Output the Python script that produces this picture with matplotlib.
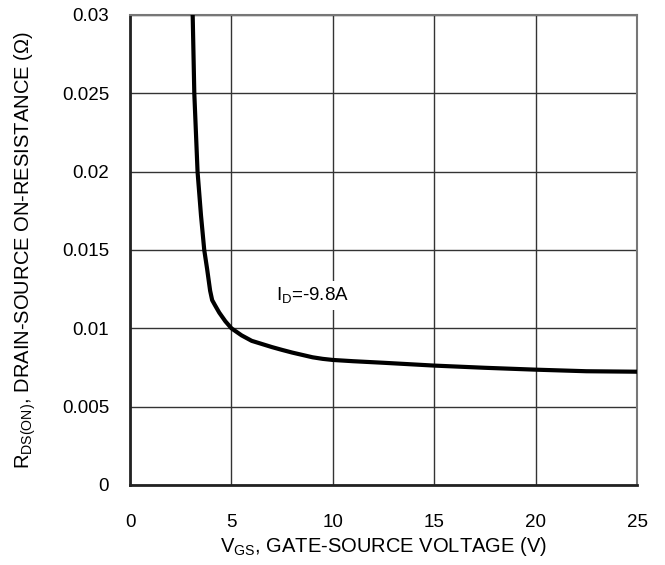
import matplotlib
matplotlib.use('Agg')
import matplotlib.pyplot as plt

# VGS vs RDS(ON)
vgs = [3.09, 3.17, 3.33, 3.5, 3.66, 3.8, 3.95, 4.05, 4.2, 4.4, 4.7, 5.0, 5.5, 6.0, 6.5, 7.0, 7.5, 8.0, 8.5, 9.0, 9.5, 10.0, 11.0, 12.5, 15.0, 17.5, 20.0, 22.5, 25.0]
rds = [0.030, 0.025, 0.020, 0.0172, 0.015, 0.0138, 0.0124, 0.0118, 0.01145, 0.0110, 0.01045, 0.0100, 0.00955, 0.0092, 0.0090, 0.0088, 0.00862, 0.00845, 0.0083, 0.00815, 0.00805, 0.00798, 0.0079, 0.0078, 0.00762, 0.00748, 0.00736, 0.00726, 0.00723]
xticks = [0, 5, 10, 15, 20, 25]
yticks = [0, 0.005, 0.01, 0.015, 0.02, 0.025, 0.03]
ytick_labels = ['0', '0.005', '0.01', '0.015', '0.02', '0.025', '0.03']

plt.rcParams['font.family'] = ['Liberation Sans', 'DejaVu Sans']
plt.rcParams['mathtext.fontset'] = 'custom'
plt.rcParams['mathtext.rm'] = 'Liberation Sans'

fig = plt.figure(figsize=(6.65, 5.65), dpi=100)
ax = fig.add_axes([0.1955, 0.1416, 0.7625, 0.832])
ax.plot(vgs, rds, color='black', lw=3, solid_capstyle='butt', solid_joinstyle='round', zorder=3)
ax.set_xlim(0, 25)
ax.set_ylim(0, 0.03)
ax.set_xticks(xticks)
ax.set_yticks(yticks)
ax.set_yticklabels(ytick_labels)
ax.tick_params(length=0, labelsize=13.5)
ax.tick_params(axis='x', pad=21)
ax.tick_params(axis='y', pad=15)
ax.grid(True, color='#333333', lw=1)
for s in ['top', 'right']:
    ax.spines[s].set_color('#777777')
    ax.spines[s].set_linewidth(1.5)
for s in ['left', 'bottom']:
    ax.spines[s].set_color('#222222')
    ax.spines[s].set_linewidth(2)

ax.text(9.0, 0.0121, r'$\mathregular{I_D}$=-9.8A', fontsize=13.5, ha='center', va='center',
        bbox=dict(facecolor='white', edgecolor='none', pad=3), zorder=4)
ax.set_xlabel(r'$\mathregular{V_{GS}}$, GATE-SOURCE VOLTAGE (V)', fontsize=14.5, labelpad=3)
ax.set_ylabel(r'$\mathregular{R_{DS(ON)}}$, DRAIN-SOURCE ON-RESISTANCE (Ω)', fontsize=14.5, labelpad=17)

fig.savefig('out.png', dpi=100)
